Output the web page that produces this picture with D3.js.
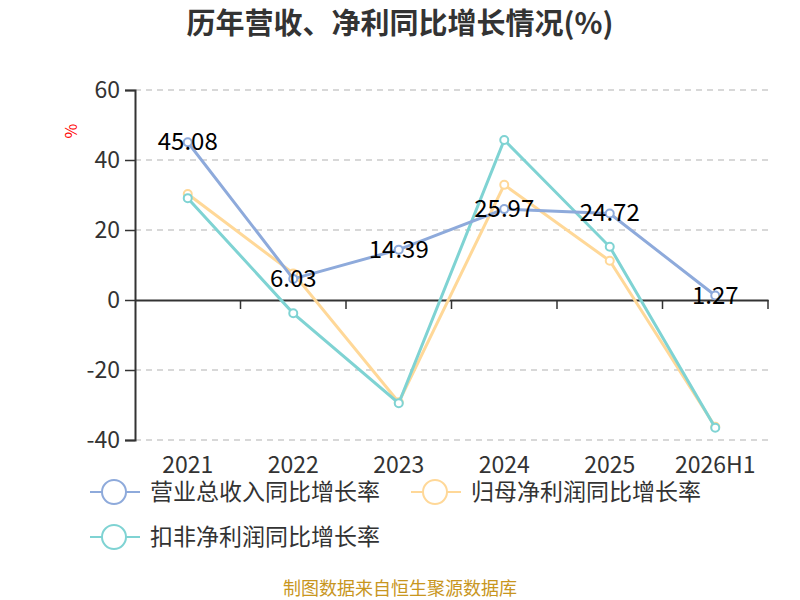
<!DOCTYPE html>
<html>
<head>
<meta charset="utf-8">
<script src="https://cdn.jsdelivr.net/npm/d3@7"></script>
<style>
  body { margin: 0; background: #fff; }
  text { font-family: "Noto Sans CJK SC", "Noto Sans", sans-serif; }
</style>
</head>
<body>
<script>
var categories = ['2021', '2022', '2023', '2024', '2025', '2026H1'];
var revenueGrowth = [45.08, 6.03, 14.39, 25.97, 24.72, 1.27];
var netProfitGrowth = [30.3, 7.6, -29.2, 32.9, 11.2, -36.2];
var deductedGrowth = [29.1, -3.8, -29.5, 45.7, 15.2, -36.5];
var yTicks = [-40, -20, 0, 20, 40, 60];
var seriesNames = ['营业总收入同比增长率', '归母净利润同比增长率', '扣非净利润同比增长率'];
var colors = ['#8eaadb', '#ffd898', '#7fd3d3'];

var W = 800, H = 600;
var svg = d3.select('body').append('svg').attr('width', W).attr('height', H);

var x = d3.scaleBand().domain(categories).range([135, 768]);
var y = d3.scaleLinear().domain([-40, 60]).range([440, 90]);

svg.append('text')
  .attr('x', 400).attr('y', 34)
  .attr('text-anchor', 'middle')
  .attr('font-size', 29).attr('font-weight', 'bold').attr('fill', '#333')
  .text('历年营收、净利同比增长情况(%)');

// grid
svg.append('g').selectAll('line').data(yTicks.filter(function (d) { return d !== 0; }))
  .enter().append('line')
  .attr('x1', 135).attr('x2', 768)
  .attr('y1', function (d) { return y(d); }).attr('y2', function (d) { return y(d); })
  .attr('stroke', '#ccc').attr('stroke-dasharray', '6,5').attr('stroke-width', 1.3);

// y axis
var yAxis = svg.append('g').attr('transform', 'translate(135,0)')
  .call(d3.axisLeft(y).tickValues(yTicks).tickSize(10).tickPadding(5)
    .tickFormat(function (d) { return String(d); }));
yAxis.select('.domain').attr('stroke', '#333').attr('stroke-width', 2);
yAxis.selectAll('.tick line').attr('stroke', '#333').attr('stroke-width', 1.5);
yAxis.selectAll('.tick text').attr('font-size', 23).attr('fill', '#333')
  .attr('font-family', '"Noto Sans CJK SC", sans-serif');

// x axis at zero
var xAxis = svg.append('g').attr('transform', 'translate(0,' + y(0) + ')')
  .call(d3.axisBottom(x).tickSize(0).tickFormat(''));
xAxis.select('.domain').attr('stroke', '#333').attr('stroke-width', 2);
xAxis.selectAll('.tick').remove();

var bounds = categories.map(function (c) { return x(c); }).concat([768]);
svg.append('g').selectAll('line').data(bounds.slice(1)).enter().append('line')
  .attr('x1', function (d) { return d; }).attr('x2', function (d) { return d; })
  .attr('y1', y(0)).attr('y2', y(0) + 9)
  .attr('stroke', '#333').attr('stroke-width', 1.5);

svg.append('g').selectAll('text').data(categories).enter().append('text')
  .attr('x', function (d) { return x(d) + x.bandwidth() / 2; })
  .attr('y', 473)
  .attr('text-anchor', 'middle').attr('font-size', 23).attr('fill', '#333')
  .text(function (d) { return d; });

svg.append('text')
  .attr('transform', 'translate(77,131) rotate(-90)')
  .attr('text-anchor', 'middle').attr('font-size', 16).attr('fill', 'red')
  .text('%');

var cx = function (d, i) { return x(categories[i]) + x.bandwidth() / 2; };
var allSeries = [revenueGrowth, netProfitGrowth, deductedGrowth];
var line = d3.line().x(cx).y(function (d) { return y(d); });

[1, 2, 0].forEach(function (k) {
  var g = svg.append('g');
  g.append('path').datum(allSeries[k])
    .attr('d', line).attr('fill', 'none')
    .attr('stroke', colors[k]).attr('stroke-width', 3);
  g.selectAll('circle').data(allSeries[k]).enter().append('circle')
    .attr('cx', cx).attr('cy', function (d) { return y(d); })
    .attr('r', 4).attr('fill', '#fff')
    .attr('stroke', colors[k]).attr('stroke-width', 2);
});

svg.append('g').selectAll('text').data(revenueGrowth).enter().append('text')
  .attr('x', cx).attr('y', function (d) { return y(d) + 8; })
  .attr('text-anchor', 'middle').attr('font-size', 24).attr('fill', '#000')
  .text(function (d) { return d.toFixed(2); });

// legend
var legendPos = [[90, 492], [411, 492], [90, 537]];
seriesNames.forEach(function (name, k) {
  var lg = svg.append('g').attr('transform', 'translate(' + legendPos[k][0] + ',' + legendPos[k][1] + ')');
  lg.append('line').attr('x1', 0).attr('x2', 50).attr('y1', 0).attr('y2', 0)
    .attr('stroke', colors[k]).attr('stroke-width', 2);
  lg.append('circle').attr('cx', 24).attr('cy', 0).attr('r', 12)
    .attr('fill', '#fff').attr('stroke', colors[k]).attr('stroke-width', 2);
  lg.append('text').attr('x', 60).attr('y', 8)
    .attr('font-size', 23).attr('fill', '#333').text(name);
});

svg.append('text')
  .attr('x', 400).attr('y', 595)
  .attr('text-anchor', 'middle').attr('font-size', 18).attr('fill', '#c8961e')
  .text('制图数据来自恒生聚源数据库');
</script>
</body>
</html>
